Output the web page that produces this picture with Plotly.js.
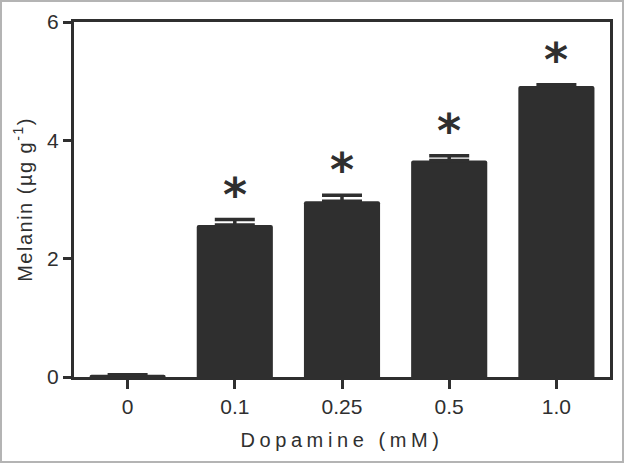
<!DOCTYPE html>
<html>
<head>
<meta charset="utf-8">
<script src="https://cdn.plot.ly/plotly-3.0.1.min.js"></script>
<style>
html,body{margin:0;padding:0;background:#fff;}
#wrap{position:relative;width:624px;height:463px;}
#chart{position:absolute;left:0;top:0;width:624px;height:463px;}
#frame{position:absolute;left:0;top:0;width:624px;height:463px;box-sizing:border-box;border:2px solid #b4b4b4;pointer-events:none;}
</style>
</head>
<body>
<div id="wrap"><div id="chart"></div><div id="frame"></div></div>
<script>
const categories = ["0", "0.1", "0.25", "0.5", "1.0"];
const melanin = [0.04, 2.57, 2.97, 3.66, 4.92];
const errors = [0.0, 0.09, 0.1, 0.08, 0.02];
const significant = [false, true, true, true, true];
const yTicks = [0, 2, 4, 6];

const ink = "#2f2f2f";
const font = "Liberation Sans, Arial, sans-serif";

const trace = {
  type: "bar",
  x: categories,
  y: melanin,
  width: 0.71,
  marker: {color: ink, line: {width: 0}, cornerradius: 2},
  error_y: {type: "data", array: errors, arrayminus: errors.map(() => 0), symmetric: false,
            color: ink, thickness: 3.5, width: 20, visible: true},
  hoverinfo: "skip"
};

const annotations = categories.map((c, i) => significant[i] ? {
  x: i, y: melanin[i] + errors[i], xref: "x", yref: "y",
  text: "*", showarrow: false, yanchor: "bottom", yshift: -4,
  font: {family: "DejaVu Sans, sans-serif", size: 46, color: ink, weight: "bold"}
} : null).filter(a => a);

const layout = {
  width: 624, height: 463,
  margin: {l: 74, r: 14, t: 22, b: 86},
  paper_bgcolor: "#fff", plot_bgcolor: "#fff",
  showlegend: false,
  font: {family: font, color: ink},
  xaxis: {
    type: "category", range: [-0.5, 4.5],
    showline: true, linewidth: 3, linecolor: ink, mirror: true,
    ticks: "outside", ticklen: 9, tickwidth: 3, tickcolor: ink,
    tickfont: {size: 21, color: ink, family: font},
    showgrid: false, zeroline: false,
    title: {text: "Dopamine (mM)", font: {size: 20, color: ink, family: font}, standoff: 16}
  },
  yaxis: {
    range: [0, 6], tickvals: yTicks, ticktext: yTicks.map(String),
    showline: true, linewidth: 3, linecolor: ink, mirror: true,
    ticks: "outside", ticklen: 8, tickwidth: 3, tickcolor: ink,
    tickfont: {size: 21, color: ink, family: font},
    showgrid: false, zeroline: false,
    title: {text: "Melanin (µg g<sup>-1</sup>)", font: {size: 20, color: ink, family: font}, standoff: 10}
  },
  annotations: annotations
};

Plotly.newPlot("chart", [trace], layout, {staticPlot: true, displayModeBar: false}).then(() => {
  document.querySelectorAll(".xtitle").forEach(t => t.style.letterSpacing = "4.6px");
  document.querySelectorAll(".ytitle").forEach(t => t.style.letterSpacing = "1.5px");
});
</script>
</body>
</html>
